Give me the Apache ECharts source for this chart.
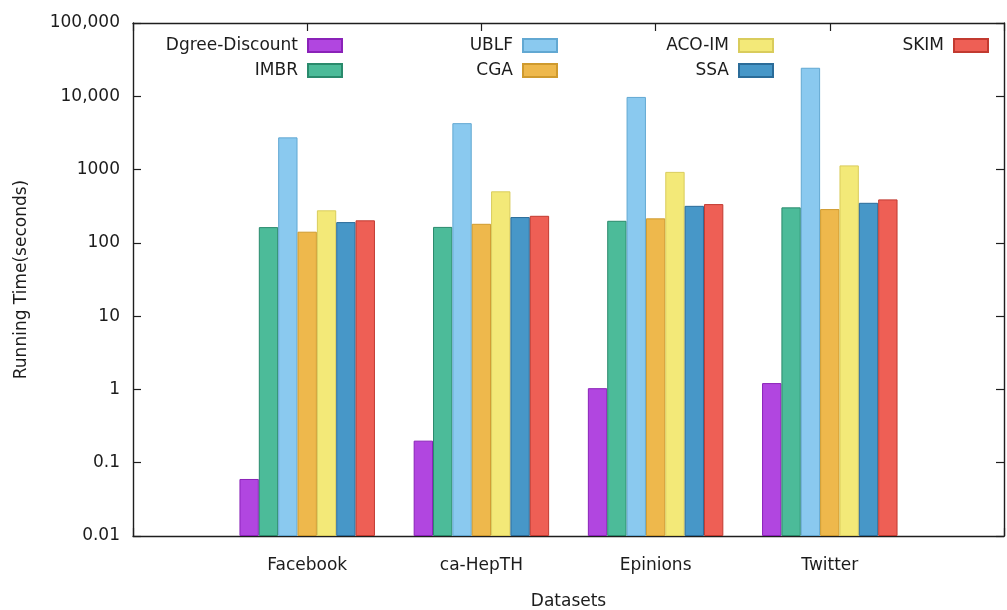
<!DOCTYPE html>
<html>
<head>
<meta charset="utf-8">
<script src="https://cdn.jsdelivr.net/npm/echarts@6/dist/echarts.min.js"></script>
<style>
  html, body { margin: 0; padding: 0; background: #ffffff; }
  #chart { width: 1007px; height: 610px; }
</style>
</head>
<body>
<div id="chart"></div>
<script>
// Datasets on the x axis (cluster positions 0..3)
const categories = ['Facebook', 'ca-HepTH', 'Epinions', 'Twitter'];

// Running time in seconds, one array per algorithm
const dgreeDiscount = [0.06, 0.2, 1.04, 1.22];
const imbr          = [164, 165, 200, 305];
const ublf          = [2750, 4300, 9800, 24500];
const cga           = [142, 182, 216, 289];
const acoIm         = [278, 505, 930, 1140];
const ssa           = [192, 225, 320, 352];
const skim          = [203, 234, 338, 392];

// Decade tick labels of the log axis, from 0.01 upward
const yTickLabels = ['0.01', '0.1', '1', '10', '100', '1000', '10,000', '100,000'];

const seriesDefs = [
  { name: 'Dgree-Discount', data: dgreeDiscount, color: '#b146e0', border: '#8a22b8' },
  { name: 'IMBR',           data: imbr,          color: '#4cbb99', border: '#2a8a6c' },
  { name: 'UBLF',           data: ublf,          color: '#8ac9ef', border: '#62a8d2' },
  { name: 'CGA',            data: cga,           color: '#eeb84c', border: '#cf9a2e' },
  { name: 'ACO-IM',         data: acoIm,         color: '#f3e978', border: '#d9cc5c' },
  { name: 'SSA',            data: ssa,           color: '#4797c8', border: '#2b6c99' },
  { name: 'SKIM',           data: skim,          color: '#ee5f55', border: '#c23a30' }
];

const FONT = 'DejaVu Sans';
const FS = 17;
const TEXT = '#1c1c1c';
const AXIS = '#1e1e1e';

const chart = echarts.init(document.getElementById('chart'), null, { renderer: 'canvas' });

// Key laid out in 4 columns x 2 rows, text right-aligned before the sample box
const keySlots = [
  { name: 'Dgree-Discount', right: 664, top: 37 },
  { name: 'IMBR',           right: 664, top: 62 },
  { name: 'UBLF',           right: 449, top: 37 },
  { name: 'CGA',            right: 449, top: 62 },
  { name: 'ACO-IM',         right: 233, top: 37 },
  { name: 'SSA',            right: 233, top: 62 },
  { name: 'SKIM',           right: 18,  top: 37 }
];

const legends = keySlots.map(k => ({
  data: [k.name],
  right: k.right,
  top: k.top,
  padding: 0,
  align: 'right',
  icon: 'rect',
  itemWidth: 34,
  itemHeight: 13,
  selectedMode: false,
  textStyle: { fontFamily: FONT, fontSize: FS, color: TEXT, padding: [0, 5, 0, 0] }
}));

const yLabel = v => {
  const k = Math.round(Math.log10(v)) + 2;
  return yTickLabels[k] !== undefined ? yTickLabels[k] : '';
};

const frameLine = { show: true, onZero: false, lineStyle: { color: AXIS, width: 1.4 } };
const innerTick = { show: true, inside: true, length: 8, lineStyle: { color: AXIS, width: 1.2 } };

const option = {
  backgroundColor: '#ffffff',
  animation: false,
  legend: legends,
  grid: { left: 133, right: 3, top: 23, bottom: 74, containLabel: false, outerBoundsMode: 'none' },
  xAxis: [
    {
      type: 'value',
      position: 'bottom',
      min: -1,
      max: 4,
      interval: 1,
      splitLine: { show: false },
      axisLine: frameLine,
      axisTick: innerTick,
      axisLabel: {
        margin: 21,
        fontFamily: FONT, fontSize: FS, color: TEXT,
        formatter: v => categories[v] !== undefined ? categories[v] : ''
      },
      name: 'Datasets',
      nameLocation: 'middle',
      nameGap: 57,
      nameTextStyle: { fontFamily: FONT, fontSize: FS, color: TEXT }
    },
    {
      type: 'value',
      position: 'top',
      min: -1,
      max: 4,
      interval: 1,
      splitLine: { show: false },
      axisLine: frameLine,
      axisTick: innerTick,
      axisLabel: { show: false }
    }
  ],
  yAxis: [
    {
      type: 'log',
      logBase: 10,
      min: 0.01,
      max: 100000,
      startValue: 0.01,
      position: 'left',
      splitLine: { show: false },
      axisLine: frameLine,
      axisTick: innerTick,
      minorTick: { show: false },
      axisLabel: {
        margin: 13,
        padding: [5, 0, 0, 0],
        fontFamily: FONT, fontSize: FS, color: TEXT,
        formatter: yLabel
      },
      name: 'Running Time(seconds)',
      nameLocation: 'middle',
      nameGap: 103,
      nameTextStyle: { fontFamily: FONT, fontSize: FS, color: TEXT }
    },
    {
      type: 'log',
      logBase: 10,
      min: 0.01,
      max: 100000,
      position: 'right',
      splitLine: { show: false },
      axisLine: frameLine,
      axisTick: innerTick,
      axisLabel: { show: false }
    }
  ],
  series: seriesDefs.map(s => ({
    name: s.name,
    type: 'bar',
    xAxisIndex: 0,
    yAxisIndex: 0,
    barWidth: '11.11%',
    barGap: '0%',
    z: 3,
    itemStyle: { color: s.color, borderColor: s.border, borderWidth: 1 },
    data: s.data.map((v, i) => [i, v])
  }))
};

chart.setOption(option);
</script>
</body>
</html>
